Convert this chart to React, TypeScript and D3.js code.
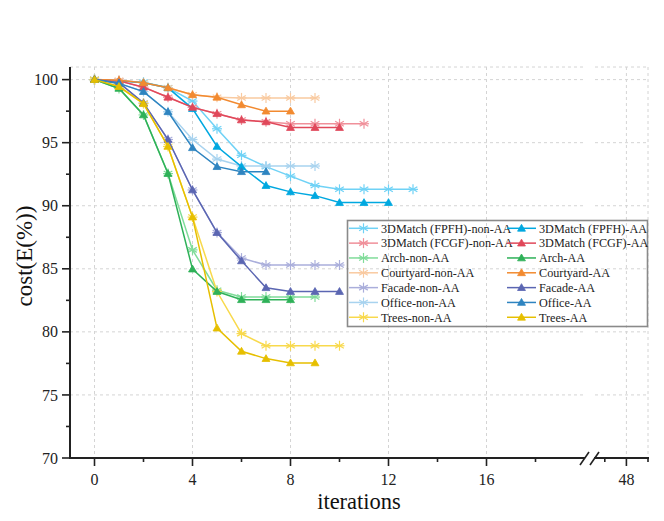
import React from "react";
import * as d3 from "d3";

const seriesNames = [
  "3DMatch (FPFH)-non-AA", "3DMatch (FPFH)-AA",
  "3DMatch (FCGF)-non-AA", "3DMatch (FCGF)-AA",
  "Arch-non-AA", "Arch-AA",
  "Courtyard-non-AA", "Courtyard-AA",
  "Facade-non-AA", "Facade-AA",
  "Office-non-AA", "Office-AA",
  "Trees-non-AA", "Trees-AA",
];
const seriesColors = [
  "#6fd2f6", "#00a8e0",
  "#f0909a", "#e0485a",
  "#80dc9a", "#2eb158",
  "#f9caa0", "#f28a30",
  "#aaaedb", "#5b66b2",
  "#a8d3ef", "#2e84c0",
  "#f8d94c", "#e6bf00",
];
const fpfhNonAA = [100, 99.9, 99.8, 99.35, 98.3, 96.1, 94.0, 93.1, 92.35, 91.6, 91.3, 91.3, 91.3, 91.3];
const fpfhAA = [100, 99.9, 99.75, 99.35, 97.7, 94.7, 93.1, 91.6, 91.1, 90.8, 90.25, 90.25, 90.25];
const fcgfNonAA = [100, 99.9, 99.4, 98.6, 97.8, 97.3, 96.8, 96.65, 96.5, 96.5, 96.5, 96.5];
const fcgfAA = [100, 99.9, 99.4, 98.6, 97.8, 97.3, 96.8, 96.65, 96.2, 96.2, 96.2];
const archNonAA = [100, 99.3, 97.2, 92.55, 86.5, 83.3, 82.76, 82.76, 82.76, 82.76];
const archAA = [100, 99.3, 97.2, 92.55, 84.98, 83.2, 82.55, 82.55, 82.55];
const courtyardNonAA = [100, 99.95, 99.75, 99.35, 98.8, 98.6, 98.55, 98.55, 98.55, 98.55];
const courtyardAA = [100, 99.95, 99.75, 99.35, 98.8, 98.6, 98.0, 97.5, 97.5];
const facadeNonAA = [100, 99.75, 98.15, 95.25, 91.25, 87.87, 85.85, 85.3, 85.3, 85.3, 85.3];
const facadeAA = [100, 99.75, 98.15, 95.25, 91.25, 87.87, 85.63, 83.5, 83.2, 83.2, 83.2];
const officeNonAA = [100, 99.7, 99.05, 97.45, 95.25, 93.7, 93.15, 93.15, 93.15, 93.15];
const officeAA = [100, 99.7, 99.05, 97.45, 94.6, 93.1, 92.7, 92.7];
const treesNonAA = [100, 99.45, 98.1, 94.7, 89.1, 83.2, 79.86, 78.9, 78.9, 78.9, 78.9];
const treesAA = [100, 99.45, 98.1, 94.7, 89.1, 80.3, 78.46, 77.88, 77.54, 77.54];
const seriesValues = [
  fpfhNonAA, fpfhAA, fcgfNonAA, fcgfAA, archNonAA, archAA,
  courtyardNonAA, courtyardAA, facadeNonAA, facadeAA, officeNonAA, officeAA, treesNonAA, treesAA,
];

const xMajorTicks1 = [0, 4, 8, 12, 16];
const xMinorTicks1 = [2, 6, 10, 14, 18];
const xMajorTicks2 = [48];
const xMinorTicks2 = [47, 49];
const yMajorTicks = [70, 75, 80, 85, 90, 95, 100];
const yMinorTicks = [72.5, 77.5, 82.5, 87.5, 92.5, 97.5];

const W = 664, H = 521;
const left = 70, right = 648, top = 67, bottom = 458;
const x1 = d3.scaleLinear().domain([-1, 20]).range([left, 584.5]);
const x2 = d3.scaleLinear().domain([46.5, 49]).range([594, right]);
const y = d3.scaleLinear().domain([70, 101]).range([bottom, top]);
const FONT = "'Liberation Serif', 'Times New Roman', serif";

function Star({ cx, cy, r, color }: { cx: number; cy: number; r: number; color: string }) {
  const a = r * Math.cos(Math.PI / 6), b = r * Math.sin(Math.PI / 6);
  return (
    <g stroke={color} strokeWidth={1.2}>
      <line x1={cx} y1={cy - r} x2={cx} y2={cy + r} />
      <line x1={cx - a} y1={cy - b} x2={cx + a} y2={cy + b} />
      <line x1={cx - a} y1={cy + b} x2={cx + a} y2={cy - b} />
      <line x1={cx - r} y1={cy} x2={cx + r} y2={cy} />
    </g>
  );
}
function Tri({ cx, cy, color }: { cx: number; cy: number; color: string }) {
  const path = d3.symbol(d3.symbolTriangle, 27)();
  return <path d={path || ""} transform={`translate(${cx},${cy + 0.6})`} fill={color} stroke={color} strokeWidth={0.8} />;
}

export default function App() {
  const line = d3.line<number>().x((_, i) => x1(i)).y((d) => y(d));
  const gridColor = "#d4d4d4";
  const hGrid = [75, 80, 85, 90, 95, 100, 101];
  const order = [0, 2, 4, 6, 8, 10, 12, 1, 3, 5, 7, 9, 11, 13];
  const legendRow0 = 228.3, legendStep = 14.83;
  return (
    <svg width={W} height={H} style={{ position: "absolute", left: 0, top: 0 }} fontFamily={FONT}>
      <rect width={W} height={H} fill="#fff" />
      {/* grid */}
      <g stroke={gridColor} strokeWidth={1} strokeDasharray="3,3" fill="none">
        {hGrid.map((v) => (
          <g key={"h" + v}>
            <line x1={left} x2={583} y1={y(v)} y2={y(v)} />
            <line x1={595} x2={right} y1={y(v)} y2={y(v)} />
          </g>
        ))}
        {xMajorTicks1.map((v) => (
          <line key={"v" + v} x1={x1(v)} x2={x1(v)} y1={top} y2={bottom} />
        ))}
        {xMajorTicks2.map((v) => (
          <line key={"v2" + v} x1={x2(v)} x2={x2(v)} y1={top} y2={bottom} />
        ))}
        <line x1={right} x2={right} y1={top} y2={bottom} />
      </g>
      {/* series */}
      {order.map((si) => {
        const vals = seriesValues[si];
        const color = seriesColors[si];
        const isAA = si % 2 === 1;
        return (
          <g key={"s" + si}>
            <path d={line(vals) || ""} fill="none" stroke={color} strokeWidth={1.5} />
            {vals.map((v, i) =>
              isAA ? (
                <Tri key={i} cx={x1(i)} cy={y(v)} color={color} />
              ) : (
                <Star key={i} cx={x1(i)} cy={y(v)} r={5} color={color} />
              )
            )}
          </g>
        );
      })}
      {/* axes */}
      <g stroke="#222" fill="none">
        <line x1={left} x2={left} y1={top} y2={bottom + 1} strokeWidth={2} />
        <line x1={left - 1} x2={585} y1={bottom} y2={bottom} strokeWidth={2} />
        <line x1={594} x2={right + 1} y1={bottom} y2={bottom} strokeWidth={2} />
        <line x1={580} x2={589} y1={bottom + 7} y2={bottom - 6} strokeWidth={1.6} />
        <line x1={590} x2={599} y1={bottom + 7} y2={bottom - 6} strokeWidth={1.6} />
        {yMajorTicks.map((v) => (
          <line key={"ym" + v} x1={left - 8} x2={left} y1={y(v)} y2={y(v)} strokeWidth={1.6} />
        ))}
        {yMinorTicks.map((v) => (
          <line key={"yn" + v} x1={left - 4} x2={left} y1={y(v)} y2={y(v)} strokeWidth={1.6} />
        ))}
        {xMajorTicks1.map((v) => (
          <line key={"xm" + v} x1={x1(v)} x2={x1(v)} y1={bottom} y2={bottom + 8} strokeWidth={1.6} />
        ))}
        {xMinorTicks1.map((v) => (
          <line key={"xn" + v} x1={x1(v)} x2={x1(v)} y1={bottom} y2={bottom + 4} strokeWidth={1.6} />
        ))}
        {xMajorTicks2.map((v) => (
          <line key={"xm2" + v} x1={x2(v)} x2={x2(v)} y1={bottom} y2={bottom + 8} strokeWidth={1.6} />
        ))}
        {xMinorTicks2.map((v) => (
          <line key={"xn2" + v} x1={x2(v)} x2={x2(v)} y1={bottom} y2={bottom + 4} strokeWidth={1.6} />
        ))}
      </g>
      <g fontSize={16} fill="#222">
        {yMajorTicks.map((v) => (
          <text key={"yl" + v} x={58} y={y(v)} dy="0.35em" textAnchor="end">{v}</text>
        ))}
        {xMajorTicks1.map((v) => (
          <text key={"xl" + v} x={x1(v)} y={485} textAnchor="middle">{v}</text>
        ))}
        {xMajorTicks2.map((v) => (
          <text key={"xl2" + v} x={x2(v)} y={485} textAnchor="middle">{v}</text>
        ))}
      </g>
      <text x={359} y={509} fontSize={22.5} textAnchor="middle" fill="#111">iterations</text>
      <text transform={`translate(32,256) rotate(-90)`} fontSize={23} textAnchor="middle" fill="#111">cost(E(%))</text>
      {/* legend */}
      <rect x={347.5} y={220.5} width={300} height={106} fill="none" stroke="#8a8a8a" strokeWidth={1.6} />
      {seriesNames.map((name, si) => {
        const col = si % 2;
        const row = Math.floor(si / 2);
        const cy = legendRow0 + row * legendStep;
        const lx = col === 0 ? 349 : 507;
        const color = seriesColors[si];
        return (
          <g key={"l" + si}>
            <line x1={lx} x2={lx + 29} y1={cy} y2={cy} stroke={color} strokeWidth={1.5} />
            {col === 1 ? (
              <Tri cx={lx + 14.5} cy={cy} color={color} />
            ) : (
              <Star cx={lx + 14.5} cy={cy} r={5} color={color} />
            )}
            <text x={col === 0 ? 381 : 539} y={cy} dy="0.35em" fontSize={12.2} fill="#222">{name}</text>
          </g>
        );
      })}
    </svg>
  );
}
